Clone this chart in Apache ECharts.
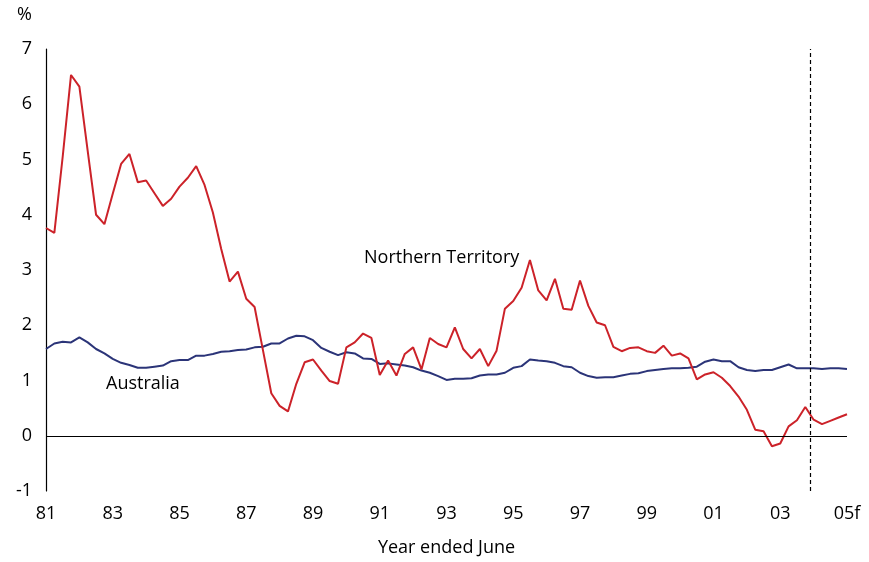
<!DOCTYPE html>
<html>
<head>
<meta charset="utf-8">
<script src="https://cdn.jsdelivr.net/npm/echarts@6/dist/echarts.min.js"></script>
<style>html,body{margin:0;padding:0;background:#fff}#c{width:869px;height:562px}</style>
</head>
<body>
<div id="c"></div>
<script>
// Quarterly data, June 1981 to June 2005 (forecast), % change
var tickLabels = ['81','83','85','87','89','91','93','95','97','99','01','03','05f'];
var northernTerritory = [
3.76,3.67,5.05,6.53,6.32,5.15,4.00,3.83,4.38,4.92,5.10,4.59,4.62,4.39,4.16,4.29,4.51,4.67,4.88,4.54,
4.04,3.38,2.79,2.97,2.48,2.33,1.55,0.77,0.54,0.44,0.94,1.33,1.38,1.18,0.99,0.94,1.60,1.69,1.85,1.77,
1.10,1.36,1.09,1.48,1.60,1.20,1.77,1.66,1.60,1.96,1.57,1.40,1.57,1.26,1.54,2.30,2.44,2.68,3.18,2.63,
2.45,2.84,2.30,2.28,2.81,2.35,2.05,2.00,1.61,1.53,1.59,1.60,1.53,1.50,1.63,1.45,1.49,1.40,1.02,1.11,
1.15,1.05,0.90,0.71,0.47,0.11,0.08,-0.19,-0.14,0.17,0.28,0.52,0.29,0.21,0.27,0.33,0.39];
var australia = [
1.57,1.67,1.70,1.69,1.78,1.69,1.57,1.49,1.39,1.32,1.28,1.23,1.23,1.25,1.27,1.35,1.37,1.37,1.45,1.45,
1.48,1.52,1.53,1.55,1.56,1.60,1.61,1.67,1.67,1.76,1.81,1.80,1.73,1.59,1.52,1.46,1.51,1.49,1.40,1.39,
1.30,1.31,1.29,1.27,1.24,1.18,1.14,1.08,1.01,1.03,1.03,1.04,1.09,1.11,1.11,1.14,1.23,1.26,1.38,1.36,
1.35,1.32,1.26,1.24,1.14,1.08,1.05,1.06,1.06,1.09,1.12,1.13,1.17,1.19,1.21,1.22,1.22,1.23,1.25,1.34,
1.38,1.35,1.35,1.24,1.19,1.17,1.19,1.19,1.24,1.29,1.22,1.22,1.22,1.21,1.22,1.22,1.21];
var forecastStart = 22.9; // years after June 1981

function toXY(arr){ return arr.map(function(v,i){ return [i/4, v]; }); }

var font = '"Open Sans", "Noto Sans", sans-serif';
var chart = echarts.init(document.getElementById('c'), null, {renderer:'canvas'});
chart.setOption({
  animation: false,
  backgroundColor: '#ffffff',
  grid: {left: 46, right: 22, top: 49, bottom: 66, containLabel: false},
  xAxis: {
    type: 'value', min: 0, max: 24, interval: 2,
    axisLine: {show: false}, axisTick: {show: false}, splitLine: {show: false},
    axisLabel: {
      color: '#000', fontFamily: font, fontSize: 18, margin: 14,
      formatter: function(v){ return tickLabels[Math.round(v/2)] || ''; }
    },
    name: 'Year ended June', nameLocation: 'middle', nameGap: 48,
    nameTextStyle: {color: '#000', fontFamily: font, fontSize: 18}
  },
  yAxis: {
    type: 'value', min: -1, max: 7, interval: 1,
    axisLine: {show: true, lineStyle: {color: '#000', width: 1.2}},
    axisTick: {show: false}, splitLine: {show: false},
    axisLabel: {color: '#000', fontFamily: font, fontSize: 18, margin: 14}
  },
  graphic: [
    {type: 'text', left: 17, top: 6, style: {text: '%', fill: '#000', font: '18px ' + font}},
    {type: 'text', left: 364, top: 249, style: {text: 'Northern Territory', fill: '#000', font: '18px ' + font}},
    {type: 'text', left: 106, top: 375, style: {text: 'Australia', fill: '#000', font: '18px ' + font}}
  ],
  series: [
    {
      name: 'Australia', type: 'line', data: toXY(australia), showSymbol: false,
      lineStyle: {color: '#2b3478', width: 2}, itemStyle: {color: '#2b3478'}, z: 3
    },
    {
      name: 'Northern Territory', type: 'line', data: toXY(northernTerritory), showSymbol: false,
      lineStyle: {color: '#cc2229', width: 2}, itemStyle: {color: '#cc2229'}, z: 4,
      markLine: {
        silent: true, symbol: 'none', label: {show: false},
        data: [
          {yAxis: 0, lineStyle: {color: '#000', type: 'solid', width: 1.2}},
          {xAxis: forecastStart, lineStyle: {color: '#000', type: [4, 3], width: 1.2}}
        ]
      }
    }
  ]
});
</script>
</body>
</html>
